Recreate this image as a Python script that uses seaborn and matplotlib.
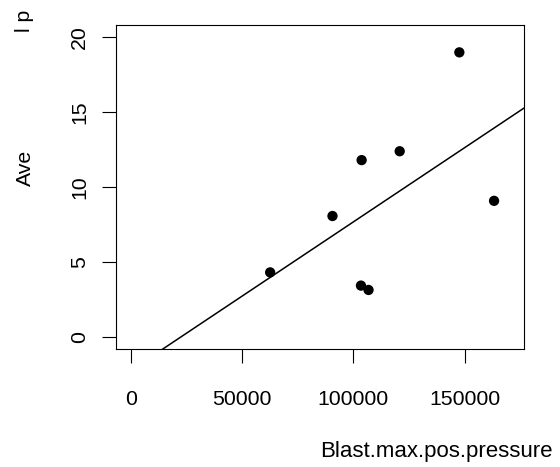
import numpy as np
import pandas as pd
import matplotlib
matplotlib.use('Agg')
import matplotlib.pyplot as plt
import seaborn as sns

# ---- data ----
blast_pressure = [147600, 163200, 103700, 120800, 90600, 62600, 103400, 106800]
average_value = [18.96, 9.08, 11.79, 12.38, 8.07, 4.32, 3.44, 3.15]
x_ticks = [0, 50000, 100000, 150000]
x_tick_labels = ['0', '50000', '100000', '150000']
y_ticks = [0, 5, 10, 15, 20]
y_tick_labels = ['0', '5', '10', '15', '20']
x_label = 'Blast.max.pos.pressure'
y_label_parts = ['Ave', 'l p']

sns.set_style('white')
plt.rcParams['font.family'] = ['Liberation Sans', 'DejaVu Sans']

df = pd.DataFrame({'pressure': blast_pressure, 'value': average_value})

fig = plt.figure(figsize=(5.6, 4.67), dpi=100)
ax = fig.add_axes([0.2066, 0.2520, 0.7297, 0.6951])
ax.set_xlim(-6800, 176800)
ax.set_ylim(-0.8, 20.8)

sns.regplot(data=df, x='pressure', y='value', ax=ax, ci=None, truncate=False,
            color='black', marker='o',
            scatter_kws=dict(s=55, edgecolors='none', alpha=1, zorder=3),
            line_kws=dict(color='black', lw=1.1))

ax.set_xlim(-6800, 176800)
ax.set_ylim(-0.8, 20.8)
ax.set_xlabel('')
ax.set_ylabel('')

ax.set_xticks(x_ticks, x_tick_labels)
ax.set_yticks(y_ticks, y_tick_labels)
ax.tick_params(axis='both', which='major', direction='out', length=10, width=0.8,
               color='black', labelcolor='black', labelsize=15.3,
               bottom=True, left=True)
ax.tick_params(axis='x', pad=19)
ax.tick_params(axis='y', pad=9, labelrotation=90)
for lab in ax.get_yticklabels():
    lab.set_va('center')

for sp in ax.spines.values():
    sp.set_visible(True)
    sp.set_color('black')
    sp.set_linewidth(0.8)

fig.text(436.5 / 560, 1 - 451 / 467, x_label, ha='center', va='center',
         fontsize=16, color='black')
fig.text(25 / 560, 1 - 186 / 467, y_label_parts[0], rotation=90,
         ha='center', va='bottom', fontsize=15.3, color='black')
fig.text(25 / 560, 1 - 32 / 467, y_label_parts[1], rotation=90,
         ha='center', va='bottom', fontsize=15.3, color='black')

fig.savefig('out.png', dpi=100, facecolor='white')
